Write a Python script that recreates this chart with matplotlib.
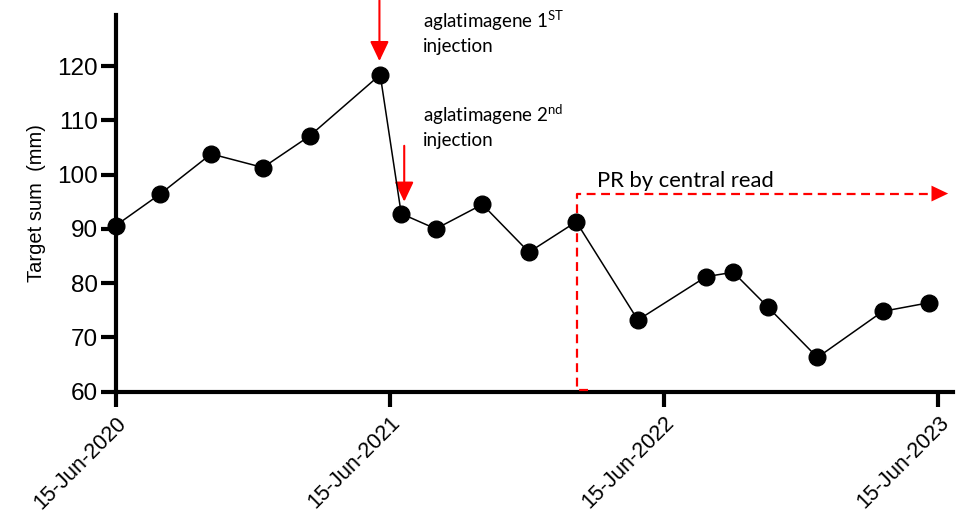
import pandas as pd
import matplotlib
matplotlib.use("Agg")
import matplotlib.pyplot as plt
import matplotlib.dates as mdates

# visit dates and target sums
visit_dates = ["2020-06-15", "2020-08-13", "2020-10-20", "2020-12-28", "2021-02-28",
               "2021-06-02", "2021-06-30", "2021-08-15", "2021-10-16", "2021-12-17",
               "2022-02-18", "2022-05-11", "2022-08-10", "2022-09-15", "2022-10-31",
               "2023-01-05", "2023-04-02", "2023-06-03"]
target_sum = [90.6, 96.4, 103.8, 101.3, 107.1, 118.4, 92.8, 90.0, 94.5, 85.7,
              91.3, 73.2, 81.2, 82.0, 75.6, 66.3, 74.8, 76.4]

tick_dates = ["2020-06-15", "2021-06-15", "2022-06-15", "2023-06-15"]
y_ticks = [60, 70, 80, 90, 100, 110, 120]

# annotation anchors (date, value)
inj1_date, inj1_top, inj1_tip = "2021-06-01", 132.1, 120.9
inj2_date, inj2_top, inj2_tip = "2021-07-04", 105.3, 95.0
pr_start, pr_end, pr_level = "2022-02-19", "2023-06-28", 96.5

plt.rcParams['font.family'] = ['Liberation Sans', 'DejaVu Sans']
plt.rcParams['mathtext.fontset'] = 'custom'
plt.rcParams['mathtext.rm'] = 'Lato'

x = pd.to_datetime(visit_dates)

fig = plt.figure(figsize=(9.62, 5.13), dpi=100)
ax = fig.add_axes([0.1203, 0.2365, 0.870, 0.7343])

ax.plot(x, target_sum, color='black', lw=1.1, marker='o', markersize=12,
        clip_on=False, zorder=5)

ax.set_xlim(pd.Timestamp("2020-06-15"), pd.Timestamp("2023-07-04"))
ax.set_ylim(60, 129.4)
ax.set_yticks(y_ticks)
ax.set_xticks(pd.to_datetime(tick_dates))
ax.xaxis.set_major_formatter(mdates.DateFormatter('%d-%b-%Y'))

for side in ['top', 'right']:
    ax.spines[side].set_visible(False)
for side in ['left', 'bottom']:
    ax.spines[side].set_linewidth(3)
ax.tick_params(axis='both', width=3, length=11, pad=2)
ax.tick_params(axis='y', labelsize=17.5)
ax.tick_params(axis='x', labelsize=15.5, pad=4)
for lab in ax.get_xticklabels():
    lab.set_rotation(45)
    lab.set_ha('right')
    lab.set_va('top')
    lab.set_rotation_mode('anchor')

ax.set_ylabel('Target sum  (mm)', fontsize=14.5, labelpad=8)

# injection arrows
arrow_kw = dict(arrowstyle='-|>,head_length=0.8,head_width=0.38', color='red',
                lw=1.5, mutation_scale=15, shrinkA=0, shrinkB=0)
ax.annotate('', xy=(pd.Timestamp(inj1_date), inj1_tip),
            xytext=(pd.Timestamp(inj1_date), inj1_top),
            arrowprops=arrow_kw, annotation_clip=False)
ax.annotate('', xy=(pd.Timestamp(inj2_date), inj2_tip),
            xytext=(pd.Timestamp(inj2_date), inj2_top),
            arrowprops=arrow_kw, annotation_clip=False)

# PR by central read bracket
ps, pe = pd.Timestamp(pr_start), pd.Timestamp(pr_end)
ax.plot([ps + pd.Timedelta(days=15), ps, ps, pe - pd.Timedelta(days=18)],
        [60.3, 60.3, pr_level, pr_level],
        color='red', lw=1.6, ls=(0, (4, 2.5)), clip_on=False, zorder=3)
ax.annotate('', xy=(pe, pr_level), xytext=(pe - pd.Timedelta(days=25), pr_level),
            arrowprops=dict(arrowstyle='-|>,head_length=0.8,head_width=0.38',
                            color='red', lw=0, mutation_scale=15,
                            shrinkA=0, shrinkB=0),
            annotation_clip=False)

W, H = 962, 513
txt = dict(family=['Lato', 'DejaVu Sans'], fontsize=13.5, va='baseline', ha='left')
fig.text(423 / W, 1 - 28 / H, r'aglatimagene 1$^{\mathregular{ST}}$', **txt)
fig.text(423 / W, 1 - 52 / H, 'injection', **txt)
fig.text(423 / W, 1 - 121.7 / H, r'aglatimagene 2$^{\mathregular{nd}}$', **txt)
fig.text(423 / W, 1 - 145.7 / H, 'injection', **txt)
fig.text(597 / W, 1 - 186.7 / H, 'PR by central read',
         family=['Lato', 'DejaVu Sans'], fontsize=15.8, va='baseline', ha='left')

fig.savefig('out.png', dpi=100)
